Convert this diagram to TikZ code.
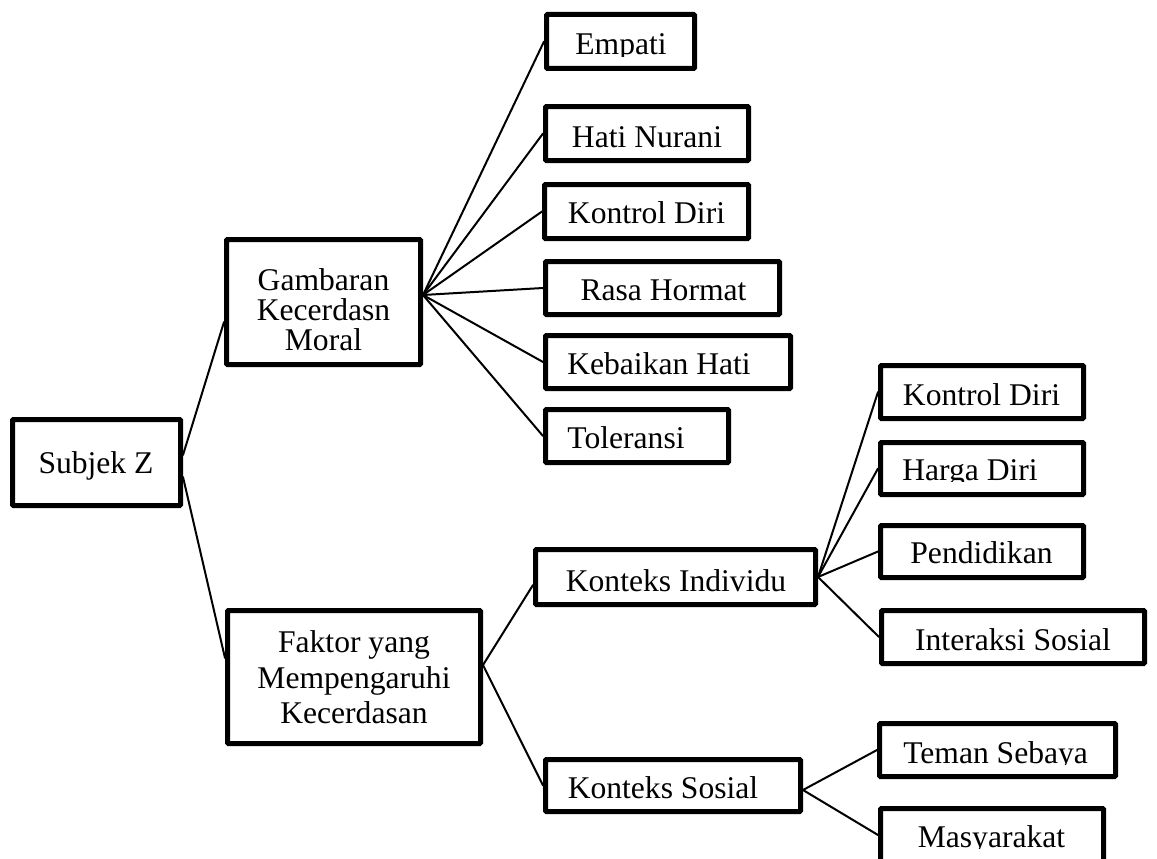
\documentclass[tikz,border=0pt]{standalone}
\usepackage{fontspec}
\setmainfont{Liberation Serif}
\tikzset{
  box/.style={draw=black, line width=5pt, rounded corners=1pt, inner sep=0pt},
  txt/.style={inner sep=0pt, outer sep=0pt, anchor=base, font=\fontsize{31.6}{35}\selectfont},
  link/.style={line width=2pt, line cap=round}
}
\newcommand{\cuttext}[4]{%
  \begin{scope}
    \clip (#1-200,#2-60) rectangle (#1+200,#2+1.5);
    \node[txt] (#4) at (#1,#2) {#3};
  \end{scope}}
\begin{document}
\begin{tikzpicture}[x=1pt,y=-1pt]
\useasboundingbox (0,0) rectangle (1157,859);
% boxes
\node[box, minimum width=168pt, minimum height=86pt]  (subj) at (96.5,462.5) {};
\node[box, minimum width=194pt, minimum height=125pt] (gam)  at (323.5,302) {};
\node[box, minimum width=253pt, minimum height=133pt] (fak)  at (354,677) {};
\node[box, minimum width=148pt, minimum height=54pt] (empati) at (620.5,41.5) {};
\node[box, minimum width=203pt, minimum height=54pt] (hati) at (647,133.5) {};
\node[box, minimum width=204pt, minimum height=54pt] (kontrol) at (646.5,211.5) {};
\node[box, minimum width=234pt, minimum height=53pt] (rasa) at (662.5,288) {};
\node[box, minimum width=245pt, minimum height=53pt] (kebaikan) at (668,362) {};
\node[box, minimum width=183pt, minimum height=53pt] (toleransi) at (637,436) {};
\node[box, minimum width=280pt, minimum height=55pt] (kind) at (675.5,577) {};
\node[box, minimum width=255pt, minimum height=52pt] (ksos) at (673,785.5) {};
\node[box, minimum width=203pt, minimum height=53pt] (kdd) at (982,392) {};
\node[box, minimum width=203pt, minimum height=52pt] (harga) at (982,468.5) {};
\node[box, minimum width=203pt, minimum height=52pt] (pend) at (982,551.5) {};
\node[box, minimum width=263pt, minimum height=53pt] (inter) at (1013,637) {};
\node[box, minimum width=236pt, minimum height=53pt] (teman) at (997.5,750) {};
\node[box, minimum width=223pt, minimum height=53pt] (masy) at (992,835) {};
% connectors
\draw[link] ([yshift=7.5pt]subj.east) -- ([yshift=-20pt]gam.west);
\draw[link] ([yshift=-14.5pt]subj.east) -- ([yshift=19pt]fak.west);
\coordinate (gf) at ([yshift=7pt]gam.east);
\foreach \n in {empati,hati,kontrol,rasa,kebaikan,toleransi}
  \draw[link] (gf) -- (\n.west);
\coordinate (ff) at ([yshift=12pt]fak.east);
\draw[link] (ff) -- ([yshift=-8pt]kind.west);
\draw[link] (ff) -- (ksos.west);
\coordinate (kf) at (kind.east);
\foreach \n in {kdd,harga,pend,inter}
  \draw[link] (kf) -- (\n.west);
\coordinate (sf) at ([yshift=-4.5pt]ksos.east);
\draw[link] (sf) -- (teman.west);
\draw[link] (sf) -- (masy.west);
% texts
\node[txt] (subj-t) at (96,473) {Subjek Z};
\node[txt] (gam-a) at (323.5,290) {Gambaran};
\node[txt] (gam-b) at (323.5,320) {Kecerdasn};
\node[txt] (gam-c) at (323.5,350) {Moral};
\node[txt] (fak-a) at (354,652) {Faktor yang};
\node[txt] (fak-b) at (354,688) {Mempengaruhi};
\node[txt] (fak-c) at (354,723) {Kecerdasan};
\cuttext{621}{55}{Empati}{empati-t}
\node[txt] (hati-t) at (647,147) {Hati Nurani};
\node[txt] (kontrol-t) at (646.5,223) {Kontrol Diri};
\node[txt] (rasa-t) at (663.5,300) {Rasa Hormat};
\node[txt] (kebaikan-t) at (659,374) {Kebaikan Hati};
\node[txt] (toleransi-t) at (626,448) {Toleransi};
\node[txt] (kind-t) at (676,591) {Konteks Individu};
\node[txt] (ksos-t) at (663,798) {Konteks Sosial};
\node[txt] (kdd-t) at (981.5,405) {Kontrol Diri};
\cuttext{970}{480}{Harga Diri}{harga-t}
\node[txt] (pend-t) at (981.5,563) {Pendidikan};
\node[txt] (inter-t) at (1013,650) {Interaksi Sosial};
\cuttext{995.6}{763}{Teman Sebaya}{teman-t}
\cuttext{991.5}{847}{Masyarakat}{masy-t}
\end{tikzpicture}
\end{document}
